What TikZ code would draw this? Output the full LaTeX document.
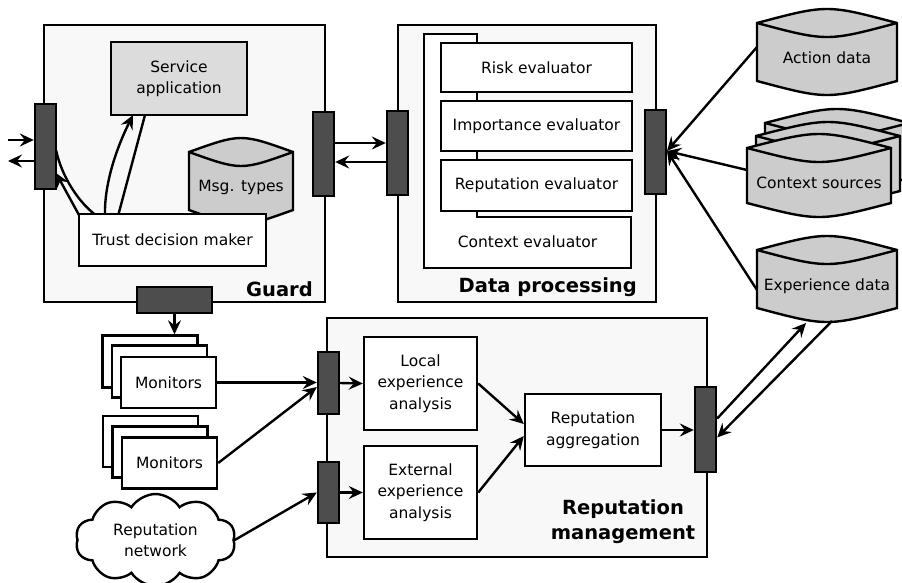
\documentclass[tikz,border=0pt]{standalone}
\usepackage{fontspec}
\setmainfont{DejaVu Sans}
\usetikzlibrary{arrows.meta,shapes.symbols}
\definecolor{contc}{HTML}{F8F8F8}
\definecolor{appc}{HTML}{DCDCDC}
\definecolor{cylc}{HTML}{CCCCCC}
\definecolor{portc}{HTML}{4D4D4D}
\newcommand{\mycyl}[5]{% x1 x2 ytop ybot bulge
  \filldraw[cylline] ({#1},{#3}) .. controls ({(#1+#2)/2},{#3-1.333*#5}) .. ({#2},{#3})
    -- ({#2},{#4}) .. controls ({(#1+#2)/2},{#4+1.333*#5}) .. ({#1},{#4}) -- cycle;
  \draw[cylline] ({#1},{#3}) .. controls ({(#1+#2)/2},{#3+1.333*#5}) .. ({#2},{#3});
}
\begin{document}
\begin{tikzpicture}[x=1pt,y=-1pt,
  lw/.style={line width=2.4pt},
  cylline/.style={lw, fill=cylc, line join=miter},
  container/.style={draw, lw, fill=contc, inner sep=0pt},
  wbox/.style={draw, lw, fill=white, inner sep=0pt, align=center,
    font=\fontsize{15.5}{21.5}\selectfont},
  gbox/.style={wbox, fill=appc},
  txt/.style={inner sep=0pt, align=center, font=\fontsize{15.5}{21.5}\selectfont},
  btxt/.style={inner sep=0pt, align=center, font=\fontsize{19.5}{25}\selectfont\bfseries},
  port/.style={draw, lw, fill=portc, inner sep=0pt},
  arr/.style={lw, -{Stealth[length=14pt,width=13pt,inset=5pt]}},
  ln/.style={lw}
]
\useasboundingbox (0,0) rectangle (902,582);

% ---------- Guard ----------
\node[container, minimum width=281pt, minimum height=277pt] (guard) at (184.5,163.5) {};
\node[btxt, anchor=south east] (guardlbl) at (313,297) {Guard};
\node[gbox, minimum width=136pt, minimum height=73pt] (sa) at (179,78.5) {Service\\application};

% message curves (drawn behind TDM)
\coordinate (c1s) at (56,150);
\coordinate (c1e) at (97,216);
\coordinate (c2s) at (105,216);
\coordinate (c2e) at (133,115);
\coordinate (c3s) at (145,115);
\coordinate (c3e) at (118,216);
\coordinate (c4s) at (79,215);
\coordinate (c4e) at (56,173);
\draw[ln] (c1s) .. controls (62,178) and (80,204) .. (c1e);
\draw[arr] (c2s) .. controls (104,182) and (118,145) .. (c2e);
\draw[ln] (c3s) -- (c3e);
\draw[arr] (c4s) -- (c4e);

\mycyl{189}{293}{152}{210}{14}
\node[txt] (msg) at (241,187) {Msg. types};
\node[wbox, minimum width=187pt, minimum height=52pt] (tdm) at (172.5,240) {Trust decision maker};

% Guard ports
\node[port, minimum width=21pt, minimum height=85pt] (gl) at (45.5,146.5) {};
\node[port, minimum width=21pt, minimum height=84pt] (gr) at (323.5,154) {};
\node[port, minimum width=75pt, minimum height=26pt] (gb) at (174.5,300) {};

% external arrows at the guard's left port
\coordinate (inL) at (8,140);
\coordinate (outL) at (8,161);
\draw[arr] (inL) -- (gl.west |- inL);
\draw[arr] (gl.west |- outL) -- (outL);

% ---------- Data processing ----------
\node[container, minimum width=258pt, minimum height=277pt] (dp) at (527,163.5) {};
\node[btxt, anchor=south east] (dplbl) at (637,297) {Data processing};
\filldraw[lw, fill=white] (424,34) -- (477,34) -- (477,217) -- (631,217) -- (631,268) -- (424,268) -- cycle;
\node[txt] (ctx) at (527.5,242) {Context evaluator};
\node[wbox, minimum width=191pt, minimum height=49pt] (risk) at (536.5,67.5) {Risk evaluator};
\node[wbox, minimum width=191pt, minimum height=50pt] (imp) at (536.5,126) {Importance evaluator};
\node[wbox, minimum width=191pt, minimum height=51pt] (rep) at (536.5,185.5) {Reputation evaluator};
\node[port, minimum width=21pt, minimum height=84pt] (dl) at (397.5,153) {};
\node[port, minimum width=21pt, minimum height=84pt] (dr) at (655.5,152) {};

\coordinate (hA) at (0,143);
\coordinate (hB) at (0,162);
\draw[arr] (gr.east |- hA) -- (dl.west |- hA);
\draw[arr] (dl.west |- hB) -- (gr.east |- hB);

% ---------- Data sources ----------
\mycyl{757}{897}{23}{81}{14}
\node[txt] (action) at (827,58) {Action data};
\mycyl{765}{909}{123}{178}{14}
\mycyl{756}{900}{136}{191}{14}
\mycyl{747}{891}{148}{203}{14}
\node[txt] (context) at (819,183) {Context sources};
\mycyl{757}{897}{250}{308}{14}
\node[txt] (exper) at (827,286) {Experience data};

\coordinate (aE) at (757,47);
\coordinate (cE) at (747,170);
\coordinate (eE) at (757,290);
\coordinate (drT) at (667,151);
\draw[arr] (aE) -- (drT);
\draw[arr] (cE) -- (drT);
\draw[arr] (eE) -- (drT);

% ---------- Monitors ----------
\node[wbox, minimum width=95pt, minimum height=52pt] (m1c) at (150,361.5) {};
\node[wbox, minimum width=95pt, minimum height=52pt] (m1b) at (159.5,371.5) {};
\node[wbox, minimum width=95pt, minimum height=51pt] (m1a) at (168.5,382.5) {Monitors};
\node[wbox, minimum width=95pt, minimum height=51pt] (m2c) at (150.5,441.5) {};
\node[wbox, minimum width=95pt, minimum height=51pt] (m2b) at (160,452) {};
\node[wbox, minimum width=95pt, minimum height=51pt] (m2a) at (169.5,463) {Monitors};
\draw[arr] (gb.south) -- (gb.south |- m1c.north);

% ---------- Reputation network ----------
\node[draw, lw, fill=white, cloud, cloud puffs=10, cloud puff arc=115, aspect=1.9,
  minimum width=160pt, minimum height=92pt, inner sep=0pt, align=center,
  font=\fontsize{15.5}{21.5}\selectfont] (net) at (155.5,540) {Reputation\\network};

% ---------- Reputation management ----------
\node[container, minimum width=380pt, minimum height=239pt] (rm) at (517,437.5) {};
\node[btxt] (rmlbl) at (623,522) {Reputation\\management};
\node[wbox, minimum width=113pt, minimum height=93pt] (loc) at (420.5,383.5) {Local\\experience\\analysis};
\node[wbox, minimum width=113pt, minimum height=93pt] (ext) at (420.5,492.5) {External\\experience\\analysis};
\node[wbox, minimum width=136pt, minimum height=72pt] (ra) at (593,430) {Reputation\\aggregation};
\node[port, minimum width=21pt, minimum height=62pt] (rp1) at (328.5,383) {};
\node[port, minimum width=21pt, minimum height=61pt] (rp2) at (328.5,492.5) {};
\node[port, minimum width=21pt, minimum height=85pt] (rr) at (705.5,429.5) {};

\draw[arr] (m1a.east) -- (rp1.west |- m1a.east);
\draw[arr] (m2a.east) -- ([yshift=-4pt]rp1.west);
\draw[arr] (net.east) -- (rp2.west);
\draw[arr] (rp1.east) -- (loc.west);
\draw[arr] (rp2.east) -- (ext.west);
\draw[arr] (loc.east) -- ([yshift=6pt]ra.west);
\draw[arr] (ext.east) -- ([yshift=-6pt]ra.west);
\draw[arr] (ra.east) -- (rr.west |- ra.east);

\coordinate (exIn) at (806,323);
\coordinate (exOut) at (832,321);
\draw[arr] ([yshift=11pt]rr.east) -- (exIn);
\draw[arr] (exOut) -- ([yshift=-8pt]rr.east);
\end{tikzpicture}
\end{document}
